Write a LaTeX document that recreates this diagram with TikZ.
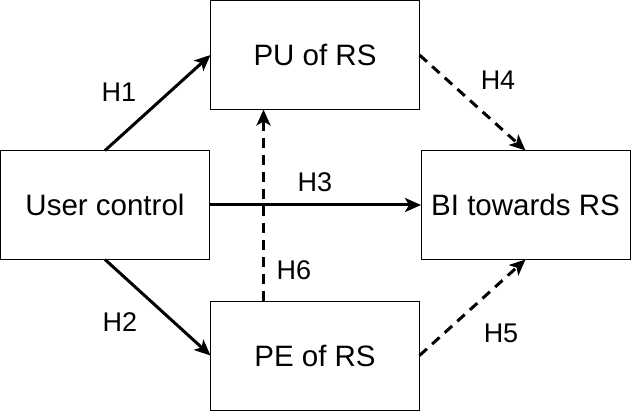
\documentclass[tikz,border=0pt]{standalone}
\usepackage{fontspec}
\setmainfont{Liberation Sans}
\usetikzlibrary{arrows.meta}

\tikzset{
  box/.style={draw, line width=1pt, minimum width=209pt, minimum height=109pt, outer sep=0pt, inner sep=0pt, font=\fontsize{29.5}{35}\selectfont},
  solidarrow/.style={line width=3pt, -{Stealth[length=16pt,width=14pt,inset=4pt]}},
  dasharrow/.style={solidarrow, dash pattern=on 10pt off 7pt},
  hlabel/.style={font=\fontsize{27}{32}\selectfont, inner sep=0pt}
}

\begin{document}
\begin{tikzpicture}[x=1pt,y=1pt]
\useasboundingbox (0,0) rectangle (631,-411);
	\node[box] (uc) at (105,-205) {User control};
	\node[box] (pu) at (315,-55) {PU of RS};
	\node[box] (pe) at (315,-355.5) {PE of RS};
	\node[box] (bi) at (525.5,-205) {BI towards RS};

	\draw[solidarrow] (uc.north) -- (pu.west);
	\draw[solidarrow] (uc.south) -- (pe.west);
	\draw[solidarrow] (uc.east) -- (bi.west);
	\draw[dasharrow] (pu.east) -- (bi.north);
	\draw[dasharrow] (pe.east) -- (bi.south);
	\draw[dasharrow] ([xshift=53pt]pe.north west) -- ([xshift=53pt]pu.south west);

	\node[hlabel] (h1) at (119,-92) {H1};
	\node[hlabel] (h2) at (120,-322) {H2};
	\node[hlabel] (h3) at (315,-182) {H3};
	\node[hlabel] (h4) at (498,-80) {H4};
	\node[hlabel] (h5) at (501,-333) {H5};
	\node[hlabel] (h6) at (294,-270) {H6};
\end{tikzpicture}
\end{document}
